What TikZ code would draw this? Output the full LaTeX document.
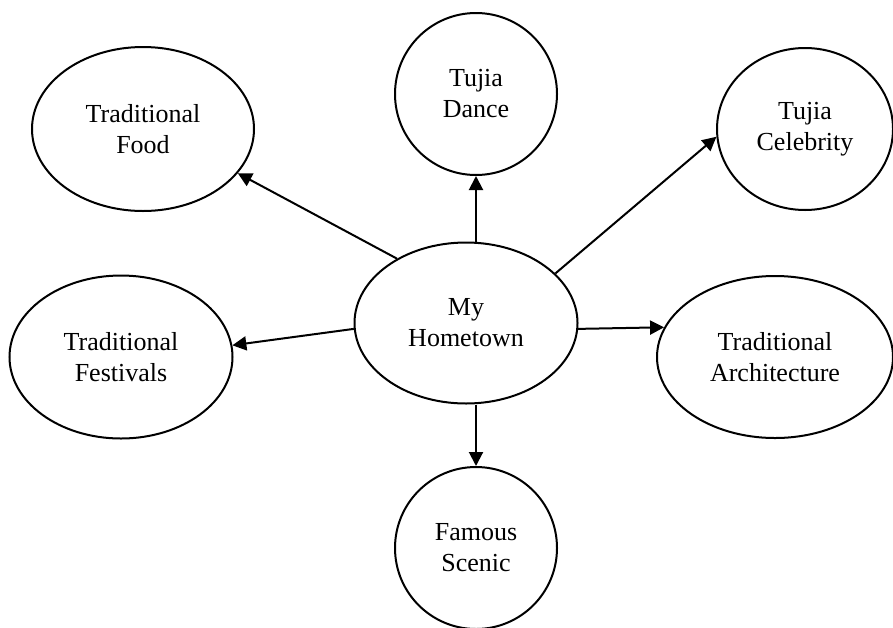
\documentclass[tikz,border=0pt]{standalone}
\usepackage{fontspec}
\setmainfont{Liberation Serif}
\usetikzlibrary{shapes.geometric,arrows.meta}
\begin{document}
\begin{tikzpicture}[x=1pt,y=-1pt,
  bubble/.style={ellipse,draw,line width=2pt,inner sep=0pt,align=center,
    font=\fontsize{26}{31}\selectfont},
  link/.style={line width=2pt,-{Triangle[length=14pt,width=14pt]}}]
\useasboundingbox (0,0) rectangle (893,627);
\node[bubble,minimum width=222pt,minimum height=164pt] (food) at (143,129) {Traditional\\Food};
\node[bubble,minimum width=162pt,minimum height=162pt] (dance) at (476,94) {Tujia\\Dance};
\node[bubble,minimum width=176pt,minimum height=162pt] (celeb) at (805,129) {Tujia\\Celebrity};
\node[bubble,minimum width=223pt,minimum height=161pt] (hm) at (466,323) {My\\Hometown};
\node[bubble,minimum width=223pt,minimum height=163pt] (fest) at (121,357) {Traditional\\Festivals};
\node[bubble,minimum width=236pt,minimum height=162pt] (arch) at (775,357) {Traditional\\Architecture};
\node[bubble,minimum width=162pt,minimum height=162pt] (scenic) at (476,548) {Famous\\Scenic};
\draw[link] (hm.137.5) -- (food.-25);
\draw[link] (dance.south |- hm.north) -- (dance.south);
\draw[link] (hm.29) -- (celeb.185);
\draw[link] (hm.183) -- (fest.6);
\draw[link] (hm.-3) -- (arch.165);
\draw[link] (scenic.north |- hm.south) -- (scenic.north);
\end{tikzpicture}
\end{document}
